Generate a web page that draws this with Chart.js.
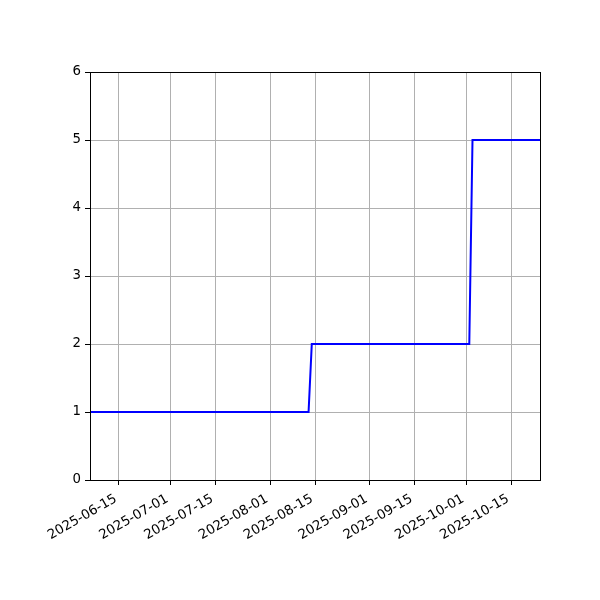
<!DOCTYPE html>
<html>
<head>
<meta charset="utf-8">
<script src="https://cdn.jsdelivr.net/npm/chart.js@4/dist/chart.umd.min.js"></script>
<style>
html,body{margin:0;padding:0;background:#fff;}
#wrap{width:600px;height:600px;position:relative;}
</style>
</head>
<body>
<div id="wrap"><canvas id="c" width="600" height="600"></canvas></div>
<script>
// Data
const dates = ['2025-06-06','2025-08-13','2025-08-14','2025-10-02','2025-10-03','2025-10-24'];
const values = [1, 1, 2, 2, 5, 5];
const xTickLabels = ['2025-06-15','2025-07-01','2025-07-15','2025-08-01','2025-08-15','2025-09-01','2025-09-15','2025-10-01','2025-10-15'];
const yTickValues = [0, 1, 2, 3, 4, 5, 6];
const xMinDate = '2025-06-06';
const xMaxDate = '2025-10-24';

const DAY = 86400000;
function toDays(s){ return Date.parse(s + 'T00:00:00Z') / DAY; }
function fmt(d){ return new Date(Math.round(d) * DAY).toISOString().slice(0,10); }

const points = dates.map((d,i)=>({x: toDays(d), y: values[i]}));
const FONT = {family: 'DejaVu Sans', size: 13.3};

const boxPlugin = {
  id: 'box',
  afterDraw(chart){
    const a = chart.chartArea, ctx = chart.ctx;
    ctx.save();
    ctx.strokeStyle = '#000';
    ctx.lineWidth = 1;
    ctx.strokeRect(Math.round(a.left)+0.5, Math.round(a.top)+0.5, Math.round(a.right-a.left), Math.round(a.bottom-a.top));
    ctx.restore();
  }
};
const bgPlugin = {
  id: 'bg',
  beforeDraw(chart){
    const ctx = chart.ctx;
    ctx.save(); ctx.fillStyle = '#fff'; ctx.fillRect(0,0,chart.width,chart.height); ctx.restore();
  }
};

new Chart(document.getElementById('c'), {
  type: 'line',
  data: {
    datasets: [{
      data: points,
      borderColor: '#0000ff',
      borderWidth: 2,
      pointRadius: 0,
      fill: false,
      tension: 0
    }]
  },
  options: {
    responsive: false,
    animation: false,
    devicePixelRatio: 1,
    layout: {padding: {top: 72, right: 60, left: 0, bottom: 0}},
    plugins: {legend: {display: false}, tooltip: {enabled: false}},
    scales: {
      x: {
        type: 'linear',
        min: toDays(xMinDate),
        max: toDays(xMaxDate),
        afterBuildTicks(scale){ scale.ticks = xTickLabels.map(s=>({value: toDays(s)})); },
        afterFit(scale){ scale.height = 120; },
        ticks: {
          autoSkip: false,
          minRotation: 30, maxRotation: 30,
          color: '#000', font: FONT, padding: 6, labelOffset: -3,
          callback: (v)=>fmt(v)
        },
        grid: {color: '#b0b0b0', lineWidth: 1, tickColor: '#000', tickLength: 5, tickWidth: 1},
        border: {display: false}
      },
      y: {
        type: 'linear',
        min: 0, max: 6,
        afterBuildTicks(scale){ scale.ticks = yTickValues.map(v=>({value: v})); },
        afterFit(scale){ scale.width = 90; },
        ticks: {color: '#000', font: FONT, padding: 4, callback: (v)=>String(v)},
        grid: {color: '#b0b0b0', lineWidth: 1, tickColor: '#000', tickLength: 5, tickWidth: 1},
        border: {display: false}
      }
    }
  },
  plugins: [bgPlugin, boxPlugin]
});
</script>
</body>
</html>
